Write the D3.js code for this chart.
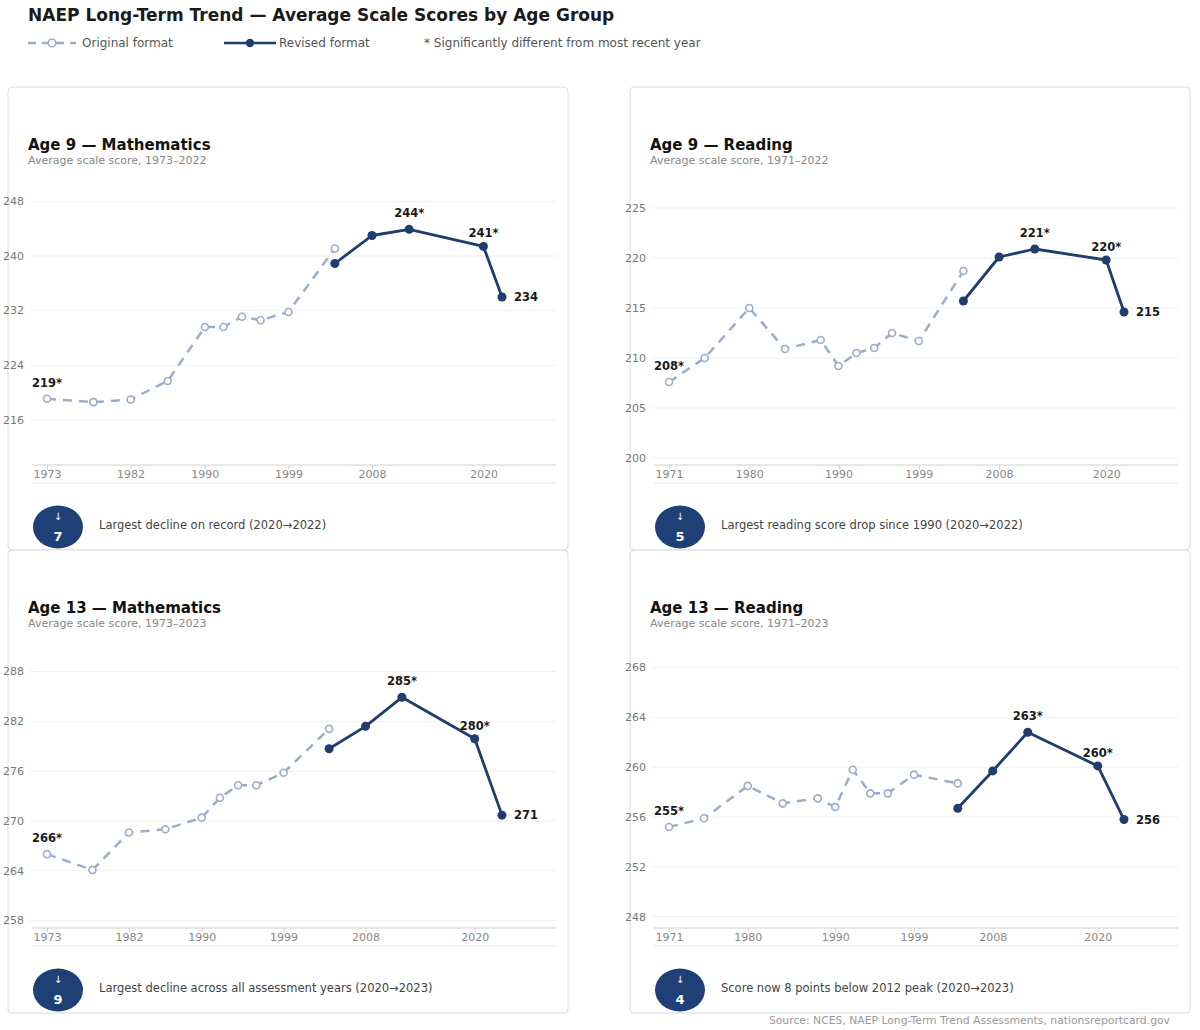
<!DOCTYPE html>
<html>
<head>
<meta charset="utf-8">
<script src="https://cdn.jsdelivr.net/npm/d3@7"></script>
<style>
  body { margin: 0; background: #fff; font-family: "DejaVu Sans", sans-serif; }
  svg text { font-family: "DejaVu Sans", sans-serif; }
</style>
</head>
<body>
<div id="chart"></div>
<script>
// ---- data ----
const math9OrigYears = [1973, 1978, 1982, 1986, 1990, 1992, 1994, 1996, 1999, 2004];
const math9Orig = [219.1, 218.6, 219.0, 221.7, 229.6, 229.6, 231.1, 230.6, 231.8, 241.1];
const math9RevYears = [2004, 2008, 2012, 2020, 2022];
const math9Rev = [238.9, 243.0, 243.9, 241.4, 234.0];

const read9OrigYears = [1971, 1975, 1980, 1984, 1988, 1990, 1992, 1994, 1996, 1999, 2004];
const read9Orig = [207.6, 210.0, 215.0, 210.9, 211.8, 209.2, 210.5, 211.0, 212.5, 211.7, 218.7];
const read9RevYears = [2004, 2008, 2012, 2020, 2022];
const read9Rev = [215.7, 220.1, 220.9, 219.8, 214.6];

const math13OrigYears = [1973, 1978, 1982, 1986, 1990, 1992, 1994, 1996, 1999, 2004];
const math13Orig = [266.0, 264.1, 268.6, 269.0, 270.4, 272.8, 274.3, 274.3, 275.8, 281.1];
const math13RevYears = [2004, 2008, 2012, 2020, 2023];
const math13Rev = [278.7, 281.4, 284.9, 279.9, 270.7];

const read13OrigYears = [1971, 1975, 1980, 1984, 1988, 1990, 1992, 1994, 1996, 1999, 2004];
const read13Orig = [255.2, 255.9, 258.5, 257.1, 257.5, 256.8, 259.8, 257.9, 257.9, 259.4, 258.7];
const read13RevYears = [2004, 2008, 2012, 2020, 2023];
const read13Rev = [256.7, 259.7, 262.8, 260.1, 255.8];

const mathYearTicks = [1973, 1982, 1990, 1999, 2008, 2020];
const readYearTicks = [1971, 1980, 1990, 1999, 2008, 2020];

const math9Ticks = [216, 224, 232, 240, 248];
const read9Ticks = [200, 205, 210, 215, 220, 225];
const math13Ticks = [258, 264, 270, 276, 282, 288];
const read13Ticks = [248, 252, 256, 260, 264, 268];

const math9Domain = [209.4, 250.1];
const read9Domain = [199.3, 227.1];
const math13Domain = [257.1, 290.6];
const read13Domain = [247.1, 269.4];

// labels: [first original, revised peak, 2020, last]
const math9Labels = ["219*", "244*", "241*", "234"];
const read9Labels = ["208*", "221*", "220*", "215"];
const math13Labels = ["266*", "285*", "280*", "271"];
const read13Labels = ["255*", "263*", "260*", "256"];

const panelTitles = ["Age 9 — Mathematics", "Age 9 — Reading", "Age 13 — Mathematics", "Age 13 — Reading"];
const panelSubtitles = ["Average scale score, 1973–2022", "Average scale score, 1971–2022",
  "Average scale score, 1973–2023", "Average scale score, 1971–2023"];
const badgeValues = ["7", "5", "9", "4"];
const footnotes = [
  "Largest decline on record (2020→2022)",
  "Largest reading score drop since 1990 (2020→2022)",
  "Largest decline across all assessment years (2020→2023)",
  "Score now 8 points below 2012 peak (2020→2023)"
];

const panels = [
  { origYears: math9OrigYears, orig: math9Orig, revYears: math9RevYears, rev: math9Rev,
    xTicks: mathYearTicks, yTicks: math9Ticks, yDomain: math9Domain, labels: math9Labels },
  { origYears: read9OrigYears, orig: read9Orig, revYears: read9RevYears, rev: read9Rev,
    xTicks: readYearTicks, yTicks: read9Ticks, yDomain: read9Domain, labels: read9Labels },
  { origYears: math13OrigYears, orig: math13Orig, revYears: math13RevYears, rev: math13Rev,
    xTicks: mathYearTicks, yTicks: math13Ticks, yDomain: math13Domain, labels: math13Labels },
  { origYears: read13OrigYears, orig: read13Orig, revYears: read13RevYears, rev: read13Rev,
    xTicks: readYearTicks, yTicks: read13Ticks, yDomain: read13Domain, labels: read13Labels }
];

// ---- layout ----
const width = 1200, height = 1030;
const origColor = "#9badc7";
const revColor = "#1f3d6e";
const cardW = 560, cardH = 463;
const cardX = [8, 630];
const cardY = [87, 550];

const svg = d3.select("#chart").append("svg")
  .attr("width", width)
  .attr("height", height);

// header
svg.append("text")
  .attr("x", 28).attr("y", 21)
  .attr("font-size", 17).attr("font-weight", "bold").attr("fill", "#1a1a1a")
  .text("NAEP Long-Term Trend — Average Scale Scores by Age Group");

const legend = svg.append("g").attr("transform", "translate(0,43)");
legend.append("line").attr("x1", 28).attr("x2", 76).attr("y1", 0).attr("y2", 0)
  .attr("stroke", origColor).attr("stroke-width", 2.5).attr("stroke-dasharray", "8,6");
legend.append("circle").attr("cx", 52).attr("cy", 0).attr("r", 3.8)
  .attr("fill", "#fff").attr("stroke", origColor).attr("stroke-width", 1.6);
legend.append("text").attr("x", 82).attr("y", 4).attr("font-size", 12).attr("fill", "#555")
  .text("Original format");
legend.append("line").attr("x1", 224).attr("x2", 276).attr("y1", 0).attr("y2", 0)
  .attr("stroke", revColor).attr("stroke-width", 2.5);
legend.append("circle").attr("cx", 250).attr("cy", 0).attr("r", 4.2).attr("fill", revColor);
legend.append("text").attr("x", 279).attr("y", 4).attr("font-size", 12).attr("fill", "#555")
  .text("Revised format");
legend.append("text").attr("x", 424).attr("y", 4).attr("font-size", 12).attr("fill", "#555")
  .text("* Significantly different from most recent year");

function drawPanel(p, idx) {
  const cx = cardX[idx % 2], cy = cardY[Math.floor(idx / 2)];
  const g = svg.append("g").attr("transform", `translate(${cx},${cy})`);

  g.append("rect")
    .attr("x", 0).attr("y", 0).attr("width", cardW).attr("height", cardH)
    .attr("rx", 4)
    .attr("fill", "#fff").attr("stroke", "#dcdcdc").attr("stroke-width", 1);

  g.append("text").attr("x", 20).attr("y", 63)
    .attr("font-size", 15).attr("font-weight", "bold").attr("fill", "#111")
    .text(panelTitles[idx]);
  g.append("text").attr("x", 20).attr("y", 77)
    .attr("font-size", 11).attr("fill", "#888")
    .text(panelSubtitles[idx]);

  const firstYear = p.origYears[0];
  const lastYear = p.revYears[p.revYears.length - 1];
  const x = d3.scaleLinear().domain([firstYear, lastYear]).range([39, 494]);
  const y = d3.scaleLinear().domain(p.yDomain).range([378, 100]);

  // gridlines
  g.append("g").selectAll("line")
    .data(p.yTicks).enter().append("line")
    .attr("x1", 22).attr("x2", 548)
    .attr("y1", d => y(d)).attr("y2", d => y(d))
    .attr("stroke", "#f0f0f0").attr("stroke-width", 1);

  // y labels
  g.append("g").selectAll("text")
    .data(p.yTicks).enter().append("text")
    .attr("x", 16).attr("y", d => y(d)).attr("dy", "0.35em")
    .attr("text-anchor", "end")
    .attr("font-size", 11).attr("fill", "#777")
    .text(d => d);

  // x axis
  const xAxis = g.append("g")
    .attr("transform", "translate(0,378)")
    .call(d3.axisBottom(x).tickValues(p.xTicks).tickFormat(d3.format("d")).tickSize(4).tickSizeOuter(0));
  xAxis.select(".domain").attr("stroke", "#d0d0d0").attr("d", "M24,0H548");
  xAxis.selectAll(".tick line").attr("stroke", "#d0d0d0");
  xAxis.selectAll(".tick text").attr("fill", "#888").attr("font-size", 11)
    .attr("font-family", "DejaVu Sans, sans-serif").attr("dy", "0.5em");
  g.append("line").attr("x1", 24).attr("x2", 548).attr("y1", 396).attr("y2", 396)
    .attr("stroke", "#e8e8e8");

  const origData = p.origYears.map((yr, i) => ({ year: yr, value: p.orig[i] }));
  const revData = p.revYears.map((yr, i) => ({ year: yr, value: p.rev[i] }));
  const line = d3.line().x(d => x(d.year)).y(d => y(d.value));

  g.append("path").datum(origData)
    .attr("d", line).attr("fill", "none")
    .attr("stroke", origColor).attr("stroke-width", 2.5)
    .attr("stroke-dasharray", "9,7");
  g.append("g").selectAll("circle").data(origData).enter().append("circle")
    .attr("cx", d => x(d.year)).attr("cy", d => y(d.value)).attr("r", 3.5)
    .attr("fill", "#fff").attr("stroke", origColor).attr("stroke-width", 1.6);

  g.append("path").datum(revData)
    .attr("d", line).attr("fill", "none")
    .attr("stroke", revColor).attr("stroke-width", 2.8)
    .attr("stroke-linejoin", "round");
  g.append("g").selectAll("circle").data(revData).enter().append("circle")
    .attr("cx", d => x(d.year)).attr("cy", d => y(d.value)).attr("r", 4.5)
    .attr("fill", revColor);

  // annotations
  const peak = revData.reduce((a, b) => (b.value > a.value ? b : a));
  const prev = revData[revData.length - 2];
  const last = revData[revData.length - 1];
  const ann = [
    { d: origData[0], text: p.labels[0], dx: 0, dy: -12, anchor: "middle" },
    { d: peak, text: p.labels[1], dx: 0, dy: -12, anchor: "middle" },
    { d: prev, text: p.labels[2], dx: 0, dy: -9, anchor: "middle" },
    { d: last, text: p.labels[3], dx: 12, dy: 4, anchor: "start" }
  ];
  g.append("g").selectAll("text").data(ann).enter().append("text")
    .attr("x", a => x(a.d.year) + a.dx)
    .attr("y", a => y(a.d.value) + a.dy)
    .attr("text-anchor", a => a.anchor)
    .attr("font-size", 11.5).attr("font-weight", "bold").attr("fill", "#1a1a1a")
    .text(a => a.text);

  // badge + footnote
  g.append("ellipse").attr("cx", 50).attr("cy", 440).attr("rx", 25).attr("ry", 21.5)
    .attr("fill", "#1f3f77");
  g.append("text").attr("x", 50).attr("y", 433).attr("text-anchor", "middle")
    .attr("font-size", 10).attr("fill", "#fff").text("↓");
  g.append("text").attr("x", 50).attr("y", 454).attr("text-anchor", "middle")
    .attr("font-size", 13).attr("font-weight", "bold").attr("fill", "#fff")
    .text(badgeValues[idx]);
  g.append("text").attr("x", 91).attr("y", 442)
    .attr("font-size", 11.5).attr("fill", "#444")
    .text(footnotes[idx]);
}

panels.forEach(drawPanel);

svg.append("text")
  .attr("x", 1170).attr("y", 1024)
  .attr("text-anchor", "end")
  .attr("font-size", 10.8).attr("fill", "#999")
  .text("Source: NCES, NAEP Long-Term Trend Assessments, nationsreportcard.gov");
</script>
</body>
</html>
